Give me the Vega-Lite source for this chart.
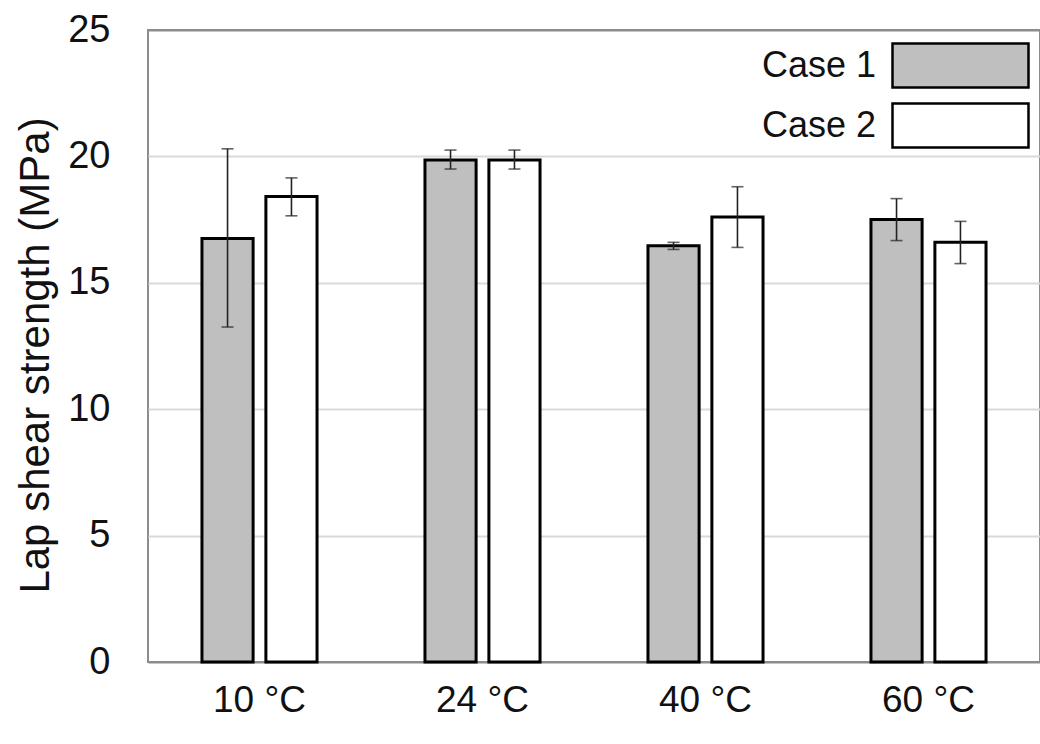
{
  "$schema": "https://vega.github.io/schema/vega-lite/v6.json",
  "width": 892,
  "height": 632,
  "autosize": "none",
  "padding": {"left": 148, "top": 30, "right": 0, "bottom": 82},
  "background": "white",
  "config": {
    "font": "Liberation Sans",
    "view": {"stroke": "#8c8c8c", "strokeWidth": 2}
  },
  "data": {
    "values": [
      {"temp": "10 °C", "case": "Case 1", "value": 16.75, "lo": 13.25, "hi": 20.3},
      {"temp": "10 °C", "case": "Case 2", "value": 18.41, "lo": 17.65, "hi": 19.15},
      {"temp": "24 °C", "case": "Case 1", "value": 19.86, "lo": 19.5, "hi": 20.25},
      {"temp": "24 °C", "case": "Case 2", "value": 19.86, "lo": 19.5, "hi": 20.25},
      {"temp": "40 °C", "case": "Case 1", "value": 16.47, "lo": 16.32, "hi": 16.6},
      {"temp": "40 °C", "case": "Case 2", "value": 17.6, "lo": 16.4, "hi": 18.8},
      {"temp": "60 °C", "case": "Case 1", "value": 17.5, "lo": 16.67, "hi": 18.33},
      {"temp": "60 °C", "case": "Case 2", "value": 16.6, "lo": 15.76, "hi": 17.43}
    ]
  },
  "encoding": {
    "x": {
      "field": "temp",
      "type": "nominal",
      "sort": ["10 °C", "24 °C", "40 °C", "60 °C"],
      "scale": {"paddingInner": 0.484, "paddingOuter": 0.242},
      "axis": {
        "title": null,
        "labelAngle": 0,
        "labelFontSize": 37,
        "labelColor": "#111111",
        "labelPadding": 20,
        "ticks": false,
        "domain": false
      }
    },
    "xOffset": {
      "field": "case",
      "type": "nominal",
      "scale": {"paddingInner": 0.2, "paddingOuter": 0}
    }
  },
  "layer": [
    {
      "mark": {"type": "bar", "stroke": "#000000", "strokeWidth": 3, "opacity": 1},
      "encoding": {
        "y": {
          "field": "value",
          "type": "quantitative",
          "scale": {"domain": [0, 25], "nice": false},
          "axis": {
            "values": [0, 5, 10, 15, 20, 25],
            "title": "Lap shear strength (MPa)",
            "titleFontSize": 42,
            "titleFontWeight": "normal",
            "titleColor": "#111111",
            "titleLimit": 800,
            "titleX": -113,
            "titleY": 325,
            "titleBaseline": "middle",
            "titleAlign": "center",
            "labelFontSize": 38,
            "labelColor": "#111111",
            "labelPadding": 38,
            "ticks": false,
            "domain": false,
            "grid": true,
            "gridWidth": 2,
            "gridColor": {
              "condition": {"test": "datum.value === 0 || datum.value === 25", "value": "#8c8c8c"},
              "value": "#d9d9d9"
            }
          }
        },
        "fill": {
          "field": "case",
          "type": "nominal",
          "scale": {"range": ["#bfbfbf", "#ffffff"]},
          "legend": {
            "title": null,
            "orient": "none",
            "legendX": 794,
            "legendY": 17,
            "padding": 0,
            "rowPadding": 5,
            "symbolType": "M-4,-1.294H4V1.294H-4Z",
            "symbolSize": 1156,
            "symbolStrokeColor": "#000000",
            "symbolStrokeWidth": 2.5,
            "symbolOpacity": 1,
            "labelAlign": "right",
            "labelOffset": -103,
            "labelFontSize": 36,
            "labelColor": "#111111",
            "labelLimit": 300
          }
        }
      }
    },
    {
      "mark": {"type": "rule", "color": "#222222", "strokeWidth": 1.6},
      "encoding": {
        "y": {"field": "lo", "type": "quantitative"},
        "y2": {"field": "hi"}
      }
    },
    {
      "mark": {"type": "tick", "color": "#222222", "thickness": 1.6, "size": 12, "orient": "horizontal"},
      "encoding": {"y": {"field": "lo", "type": "quantitative"}}
    },
    {
      "mark": {"type": "tick", "color": "#222222", "thickness": 1.6, "size": 12, "orient": "horizontal"},
      "encoding": {"y": {"field": "hi", "type": "quantitative"}}
    }
  ]
}
